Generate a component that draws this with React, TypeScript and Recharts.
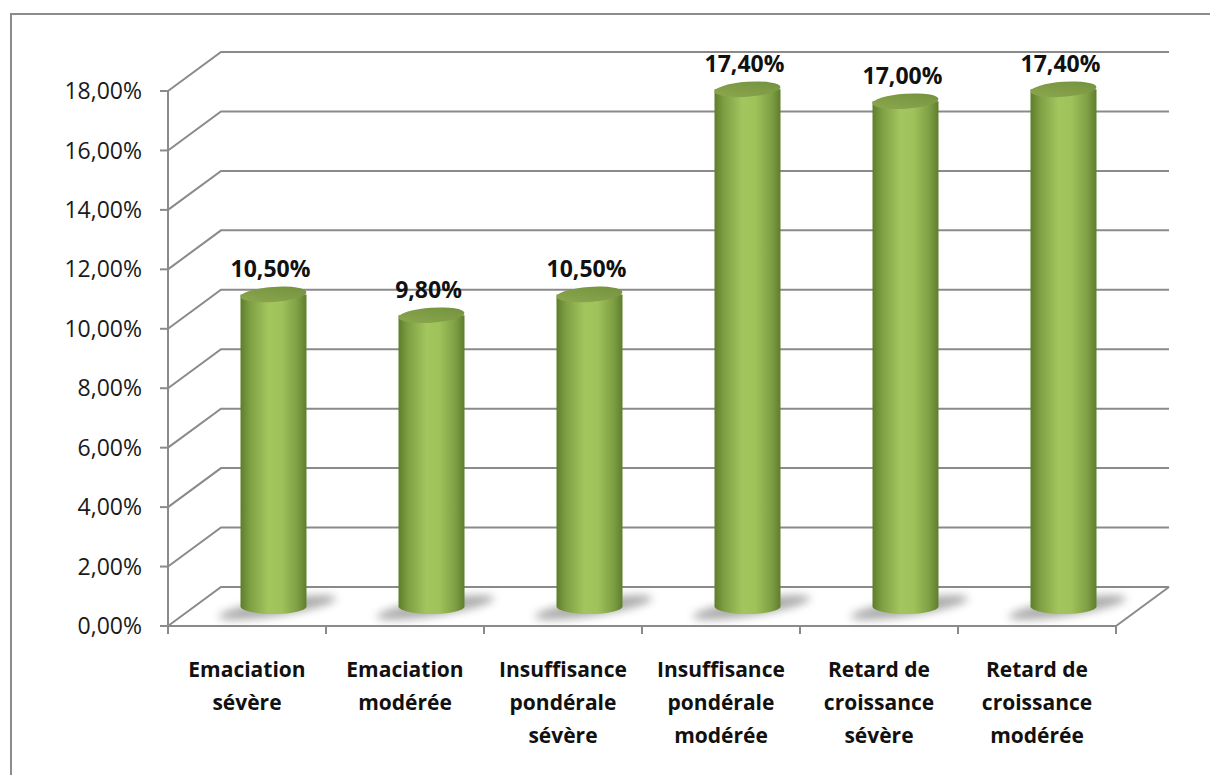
import React from 'react';
import { BarChart, Bar, XAxis, YAxis, CartesianGrid, LabelList } from 'recharts';

const categories = [
  'Emaciation\nsévère',
  'Emaciation\nmodérée',
  'Insuffisance\npondérale\nsévère',
  'Insuffisance\npondérale\nmodérée',
  'Retard de\ncroissance\nsévère',
  'Retard de\ncroissance\nmodérée',
];
const values = [10.5, 9.8, 10.5, 17.4, 17.0, 17.4];
const yTicks = [0, 2, 4, 6, 8, 10, 12, 14, 16, 18];

const data = categories.map((name, i) => ({ name, value: values[i] }));

// depth of the fake 3d box (front plane -> back wall)
const DEPTH_X = 53;
const DEPTH_Y = -39;
const LINE = '#8a8a8a';
const FONT = '"Open Sans", "Noto Sans", sans-serif';

const pct = (v: number) => v.toFixed(2).replace('.', ',') + '%';

const WallLine = (props: any) => {
  const { x1, x2, y1 } = props;
  const d = `M${x1},${y1} L${x1 + DEPTH_X},${y1 + DEPTH_Y} L${x2 + DEPTH_X},${y1 + DEPTH_Y}`;
  return <path d={d} fill="none" stroke={LINE} strokeWidth={2} />;
};

const Cylinder = (props: any) => {
  const { x, y, width, height, index } = props;
  const cx = x + width / 2 + DEPTH_X / 2;
  const rx = width / 2;
  const ry = 7.5;
  const top = y + DEPTH_Y / 2;
  const bottom = y + height + DEPTH_Y / 2;
  const left = cx - rx;
  const right = cx + rx;
  const gid = `cyl-${index}`;
  const body = `M${left},${top} L${left},${bottom} A${rx},${ry} 0 0 0 ${right},${bottom} L${right},${top} Z`;
  return (
    <g>
      <defs>
        <linearGradient id={gid} x1="0" y1="0" x2="1" y2="0">
          <stop offset="0" stopColor="#5e7d2b" />
          <stop offset="0.14" stopColor="#7e9e43" />
          <stop offset="0.42" stopColor="#a3c55d" />
          <stop offset="0.62" stopColor="#a0c25a" />
          <stop offset="0.86" stopColor="#7f9f44" />
          <stop offset="1" stopColor="#5f7e2d" />
        </linearGradient>
        <linearGradient id={`${gid}-top`} x1="0" y1="1" x2="1" y2="0">
          <stop offset="0" stopColor="#8daa50" />
          <stop offset="1" stopColor="#728f3c" />
        </linearGradient>
        <filter id={`${gid}-blur`} x="-50%" y="-200%" width="200%" height="500%">
          <feGaussianBlur stdDeviation="4" />
        </filter>
      </defs>
      <ellipse
        cx={cx + 4}
        cy={bottom + 1}
        rx={width * 0.9}
        ry={8}
        fill="#767676"
        opacity={0.6}
        transform={`rotate(-9 ${cx + 4} ${bottom + 1})`}
        filter={`url(#${gid}-blur)`}
      />
      <path d={body} fill={`url(#${gid})`} />
      <ellipse
        cx={cx}
        cy={top}
        rx={rx}
        ry={ry}
        fill={`url(#${gid}-top)`}
        transform={`rotate(-4 ${cx} ${top})`}
      />
    </g>
  );
};

const ValueLabel = (props: any) => {
  const { x, y, width, value } = props;
  const cx = x + width / 2 + DEPTH_X / 2 - 3;
  return (
    <text
      x={cx}
      y={y + DEPTH_Y / 2 - 17}
      textAnchor="middle"
      fontFamily={FONT}
      fontWeight={700}
      fontSize={23}
      fill="#111"
    >
      {pct(value)}
    </text>
  );
};

const CategoryTick = (props: any) => {
  const { x, y, payload, index } = props;
  const half = payload.offset ?? 0;
  const lines = String(payload.value).split('\n');
  const last = index === categories.length - 1;
  return (
    <g>
      <line x1={x - half} y1={y} x2={x - half} y2={y + 8} stroke={LINE} strokeWidth={2} />
      {last && (
        <>
          <line x1={x + half} y1={y} x2={x + half} y2={y + 8} stroke={LINE} strokeWidth={2} />
          <line
            x1={x + half}
            y1={y}
            x2={x + half + DEPTH_X}
            y2={y + DEPTH_Y}
            stroke={LINE}
            strokeWidth={2}
          />
        </>
      )}
      <text textAnchor="middle" fontFamily={FONT} fontWeight={700} fontSize={21} fill="#111">
        {lines.map((l, i) => (
          <tspan key={i} x={x} y={y + 51 + i * 33}>
            {l}
          </tspan>
        ))}
      </text>
    </g>
  );
};

const App = () => {
  return (
    <div
      style={{
        position: 'absolute',
        left: 0,
        top: 0,
        width: 1210,
        height: 775,
        overflow: 'hidden',
        background: '#fff',
      }}
    >
      <div
        style={{
          position: 'absolute',
          left: 10,
          top: 13,
          width: 1300,
          height: 900,
          border: '2px solid #8c8c8c',
        }}
      />
      <div style={{ position: 'absolute', left: 0, top: 0 }}>
        <BarChart
          width={1210}
          height={775}
          data={data}
          margin={{ top: 91, right: 94, left: 0, bottom: 0 }}
          barCategoryGap={0}
        >
          <CartesianGrid vertical={false} horizontal={WallLine} />
          <XAxis
            dataKey="name"
            height={149}
            interval={0}
            tickLine={false}
            tickSize={0}
            tickMargin={0}
            axisLine={{ stroke: LINE, strokeWidth: 2 }}
            tick={CategoryTick}
          />
          <YAxis
            width={168}
            domain={[0, 18]}
            ticks={yTicks}
            interval={0}
            tickSize={8}
            tickMargin={18}
            tickFormatter={pct}
            axisLine={{ stroke: LINE, strokeWidth: 2 }}
            tickLine={{ stroke: LINE, strokeWidth: 2 }}
            tick={{ fontFamily: FONT, fontSize: 23, fill: '#1a1a1a' }}
          />
          <Bar dataKey="value" barSize={66} shape={Cylinder} isAnimationActive={false}>
            <LabelList dataKey="value" content={ValueLabel} />
          </Bar>
        </BarChart>
      </div>
    </div>
  );
};

export default App;
